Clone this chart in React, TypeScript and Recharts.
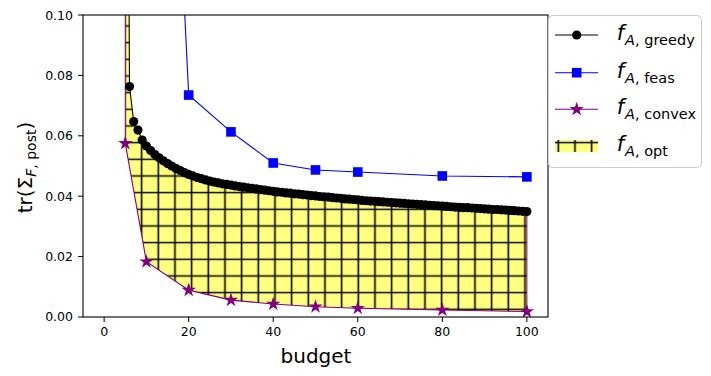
import { ComposedChart, Line, Area, XAxis, YAxis, ReferenceLine } from 'recharts';

// budgets at which the greedy design was evaluated
const greedyBudget = [
  5, 6, 7, 8, 9, 10, 11, 12, 13, 14, 15, 16, 17, 18, 19, 20, 21, 22, 23, 24, 25, 26, 27, 28, 29, 30,
  31, 32, 33, 34, 35, 36, 37, 38, 39, 40, 41, 42, 43, 44, 45, 46, 47, 48, 49, 50, 51, 52, 53, 54, 55,
  56, 57, 58, 59, 60, 61, 62, 63, 64, 65, 66, 67, 68, 69, 70, 71, 72, 73, 74, 75, 76, 77, 78, 79, 80,
  81, 82, 83, 84, 85, 86, 87, 88, 89, 90, 91, 92, 93, 94, 95, 96, 97, 98, 99, 100,
];
const greedyValue = [
  0.35, 0.0763, 0.0647, 0.0619, 0.0586, 0.0566, 0.0551, 0.0538, 0.0527, 0.0517, 0.0508, 0.05, 0.0492,
  0.0485, 0.0478, 0.0472, 0.0467, 0.0462, 0.0458, 0.0454, 0.045, 0.0447, 0.0444, 0.0441, 0.0439,
  0.0437, 0.0434, 0.0432, 0.043, 0.0428, 0.0426, 0.0424, 0.0422, 0.042, 0.0418, 0.0416, 0.0414,
  0.0413, 0.0411, 0.041, 0.0408, 0.0407, 0.0405, 0.0404, 0.0402, 0.0401, 0.0399, 0.0398, 0.0397,
  0.0395, 0.0394, 0.0393, 0.0391, 0.039, 0.0389, 0.0388, 0.0386, 0.0385, 0.0384, 0.0383, 0.0382,
  0.0381, 0.038, 0.0379, 0.0378, 0.0377, 0.0376, 0.0375, 0.0374, 0.0373, 0.0372, 0.0371, 0.037,
  0.0369, 0.0368, 0.0367, 0.0366, 0.0365, 0.0364, 0.0363, 0.0362, 0.0362, 0.0361, 0.036, 0.0359,
  0.0358, 0.0357, 0.0356, 0.0356, 0.0355, 0.0354, 0.0353, 0.0352, 0.0351, 0.035, 0.0349,
];

const feasBudget = [10, 20, 30, 40, 50, 60, 80, 100];
const feasValue = [0.36, 0.0735, 0.0613, 0.051, 0.0487, 0.048, 0.0467, 0.0464];

const convexBudget = [5, 10, 20, 30, 40, 50, 60, 80, 100];
const convexValue = [0.0575, 0.0183, 0.0089, 0.0056, 0.0043, 0.0034, 0.0029, 0.0023, 0.0018];

const xTicks = [0, 20, 40, 60, 80, 100];
const yTicks = [0, 0.02, 0.04, 0.06, 0.08, 0.1];

const rows = greedyBudget.map((b, i) => {
  const fi = feasBudget.indexOf(b);
  const ci = convexBudget.indexOf(b);
  return {
    budget: b,
    greedy: greedyValue[i],
    feas: fi >= 0 ? feasValue[fi] : null,
    convex: ci >= 0 ? convexValue[ci] : null,
  };
});

const FONT = 'DejaVu Sans';
const PURPLE = '#800080';
const HATCH = 16.667;

const HatchPattern = ({ id }: { id: string }) => (
  <pattern
    id={id}
    patternUnits='userSpaceOnUse'
    x={0.3 - HATCH / 2}
    y={1.3 - HATCH / 2}
    width={HATCH}
    height={HATCH}
  >
    <rect x={0} y={0} width={HATCH} height={HATCH} fill='#ffff80' />
    <path
      d={`M${HATCH / 2} 0V${HATCH}M0 ${HATCH / 2}H${HATCH}`}
      stroke='#000'
      strokeWidth={1.6}
    />
  </pattern>
);

const Circle = (props: any) => {
  const { cx, cy, value, index } = props;
  if (value == null || value > 0.1 || cy == null) return <g key={index} />;
  return <circle key={index} cx={cx} cy={cy} r={4.6} fill='#000' />;
};

const Square = (props: any) => {
  const { cx, cy, value, index } = props;
  if (value == null || value > 0.1 || cy == null) return <g key={index} />;
  return <rect key={index} x={cx - 4.8} y={cy - 4.8} width={9.6} height={9.6} fill='#0000ff' />;
};

const starPoints = (cx: number, cy: number, R: number) => {
  const r = R * 0.381966;
  const pts: string[] = [];
  for (let k = 0; k < 10; k++) {
    const a = ((-90 + k * 36) * Math.PI) / 180;
    const rad = k % 2 === 0 ? R : r;
    pts.push(`${cx + rad * Math.cos(a)},${cy + rad * Math.sin(a)}`);
  }
  return pts.join(' ');
};

const Star = (props: any) => {
  const { cx, cy, value, index } = props;
  if (value == null || value > 0.1 || cy == null) return <g key={index} />;
  return <polygon key={index} points={starPoints(cx, cy, 7.5)} fill={PURPLE} />;
};

const LegendLabel = ({ x, y, sub }: { x: number; y: number; sub: string }) => (
  <text x={x} y={y} fontFamily={FONT} fontSize={21} fill='#000'>
    <tspan fontStyle='italic'>f</tspan>
    <tspan fontStyle='italic' fontSize={14.5} dy={5} dx={1}>
      A
    </tspan>
    <tspan fontSize={14.5}>{`, ${sub}`}</tspan>
  </text>
);

const App = () => {
  const rowsY = [27, 64.7, 101.3, 138];
  return (
    <div style={{ position: 'relative', width: 695, height: 360 }}>
      <ComposedChart
        width={695}
        height={360}
        data={rows}
        margin={{ top: 7, right: 155, left: 0, bottom: 0 }}
      >
        <defs>
          <HatchPattern id='hatchFill' />
        </defs>
        <XAxis
          dataKey='budget'
          type='number'
          domain={[-5, 105]}
          ticks={xTicks}
          allowDataOverflow
          height={51}
          axisLine={false}
          tickSize={5}
          tickMargin={5}
          tickLine={{ stroke: '#000' }}
          tick={{ fill: '#000', fontFamily: FONT, fontSize: 12.5 }}
        />
        <YAxis
          type='number'
          domain={[0, 0.1]}
          ticks={yTicks}
          allowDataOverflow
          width={75}
          axisLine={false}
          tickSize={5}
          tickMargin={5}
          tickLine={{ stroke: '#000' }}
          tickFormatter={(v: number) => v.toFixed(2)}
          tick={{ fill: '#000', fontFamily: FONT, fontSize: 12.5 }}
        />
        <Area
          dataKey='greedy'
          type='linear'
          fill='url(#hatchFill)'
          fillOpacity={1}
          stroke='none'
          dot={false}
          activeDot={false}
          isAnimationActive={false}
        />
        <Area
          dataKey='convex'
          type='linear'
          connectNulls
          fill='#ffffff'
          fillOpacity={1}
          stroke='none'
          dot={false}
          activeDot={false}
          isAnimationActive={false}
        />
        {/* hide the seam left where the two fills start at the same budget */}
        <ReferenceLine
          segment={[
            { x: greedyBudget[0], y: 0 },
            { x: greedyBudget[0], y: convexValue[0] },
          ]}
          stroke='#ffffff'
          strokeWidth={2}
          ifOverflow='hidden'
        />
        <ReferenceLine
          segment={[
            { x: greedyBudget[0], y: convexValue[0] },
            { x: greedyBudget[0], y: greedyValue[0] },
          ]}
          stroke={PURPLE}
          strokeWidth={1}
          ifOverflow='hidden'
        />
        <ReferenceLine
          segment={[
            { x: greedyBudget[greedyBudget.length - 1], y: convexValue[convexValue.length - 1] },
            { x: greedyBudget[greedyBudget.length - 1], y: greedyValue[greedyValue.length - 1] },
          ]}
          stroke={PURPLE}
          strokeWidth={1}
          ifOverflow='hidden'
        />
        <Line
          dataKey='feas'
          type='linear'
          connectNulls
          stroke='#0000ff'
          strokeWidth={1.1}
          dot={Square}
          activeDot={false}
          isAnimationActive={false}
        />
        <Line
          dataKey='greedy'
          type='linear'
          stroke='#000'
          strokeWidth={1.1}
          dot={Circle}
          activeDot={false}
          isAnimationActive={false}
        />
        <Line
          dataKey='convex'
          type='linear'
          connectNulls
          stroke={PURPLE}
          strokeWidth={1.1}
          dot={Star}
          activeDot={false}
          isAnimationActive={false}
        />
      </ComposedChart>

      <svg
        width={695}
        height={360}
        style={{ position: 'absolute', left: 0, top: 0, pointerEvents: 'none' }}
      >
        <defs>
          <HatchPattern id='hatchLegend' />
        </defs>
        {/* axes frame */}
        <rect x={75} y={7} width={465} height={302} fill='none' stroke='#000' strokeWidth={1.1} />

        {/* axis titles */}
        <text x={308} y={355} textAnchor='middle' fontFamily={FONT} fontSize={20} fill='#000'>
          budget
        </text>
        <text
          transform='rotate(-90)'
          x={-159.5}
          y={24}
          textAnchor='middle'
          fontFamily={FONT}
          fontSize={20}
          fill='#000'
        >
          tr(Σ
          <tspan fontStyle='italic' fontSize={14} dy={4}>
            F
          </tspan>
          <tspan fontSize={14}>, post</tspan>
          <tspan dy={-4}>)</tspan>
        </text>

        {/* legend */}
        <rect
          x={540.5}
          y={7.5}
          width={153}
          height={152}
          rx={4}
          fill='#fff'
          fillOpacity={0.8}
          stroke='#cccccc'
        />
        <line x1={547} x2={590} y1={rowsY[0]} y2={rowsY[0]} stroke='#000' strokeWidth={1.1} />
        <circle cx={568.7} cy={rowsY[0]} r={4.6} fill='#000' />
        <LegendLabel x={608.7} y={rowsY[0] + 5} sub='greedy' />

        <line x1={547} x2={590} y1={rowsY[1]} y2={rowsY[1]} stroke='#0000ff' strokeWidth={1.1} />
        <rect x={568.7 - 4.8} y={rowsY[1] - 4.8} width={9.6} height={9.6} fill='#0000ff' />
        <LegendLabel x={608.7} y={rowsY[1] + 5} sub='feas' />

        <line x1={547} x2={590} y1={rowsY[2]} y2={rowsY[2]} stroke={PURPLE} strokeWidth={1.1} />
        <polygon points={starPoints(568.7, rowsY[2], 7.5)} fill={PURPLE} />
        <LegendLabel x={608.7} y={rowsY[2] + 5} sub='convex' />

        <rect x={547} y={rowsY[3] - 6} width={43} height={12} fill='url(#hatchLegend)' />
        <LegendLabel x={608.7} y={rowsY[3] + 5} sub='opt' />
      </svg>
    </div>
  );
};

export default App;
